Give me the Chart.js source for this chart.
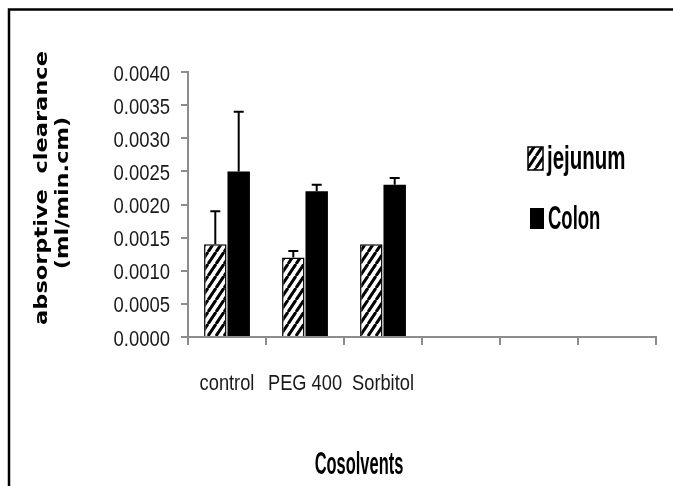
<!DOCTYPE html>
<html>
<head>
<meta charset="utf-8">
<script src="https://cdn.jsdelivr.net/npm/chart.js@4.4.1/dist/chart.umd.min.js"></script>
<style>
  body { margin: 0; background: #fff; }
  canvas { display: block; }
</style>
</head>
<body>
<canvas id="grafico" width="673" height="486"></canvas>
<script>
// datos
const categorias = ["control", "PEG 400", "Sorbitol", "", "", ""];
const jejunum = [0.0014, 0.0012, 0.0014];
const colon = [0.0025, 0.0022, 0.0023];
const errJejunum = [0.0005, 0.0001, 0];
const errColon = [0.0009, 0.0001, 0.0001];
const ticksY = ["0.0000", "0.0005", "0.0010", "0.0015", "0.0020", "0.0025", "0.0030", "0.0035", "0.0040"];

const GRIS = "#8c8c8c";
const FUENTE = "'Liberation Sans', Arial, sans-serif";

// relleno rayado para jejunum
function rayado() {
  const c = document.createElement("canvas");
  c.width = 8; c.height = 12;
  const g = c.getContext("2d");
  g.fillStyle = "#fff";
  g.fillRect(0, 0, 8, 12);
  g.strokeStyle = "#000";
  g.lineWidth = 3;
  g.beginPath();
  for (const dx of [-8, 0, 8]) { g.moveTo(dx, 12); g.lineTo(dx + 8, 0); }
  g.stroke();
  return g.createPattern(c, "repeat");
}
const patron = rayado();

// texto angosto (la figura original usa una fuente estrecha)
function textoEscalado(ctx, txt, x, y, sx, align) {
  ctx.save();
  ctx.translate(x, y);
  ctx.scale(sx, 1);
  ctx.textAlign = align || "left";
  ctx.fillText(txt, 0, 0);
  ctx.restore();
}

// marco, barras de error, etiquetas, leyenda y titulos
const extras = {
  id: "extras",
  afterDatasetsDraw(chart) {
    const ctx = chart.ctx;
    const y = chart.scales.y;
    const errores = [errJejunum, errColon];
    const valores = [jejunum, colon];
    ctx.save();
    ctx.strokeStyle = "#000";
    ctx.lineWidth = 2;
    errores.forEach((errs, i) => {
      chart.getDatasetMeta(i).data.forEach((bar, j) => {
        if (!errs[j]) return;
        const top = y.getPixelForValue(valores[i][j] + errs[j]);
        ctx.beginPath();
        ctx.moveTo(bar.x, bar.y);
        ctx.lineTo(bar.x, top);
        ctx.moveTo(bar.x - 5, top);
        ctx.lineTo(bar.x + 5, top);
        ctx.stroke();
      });
    });
    ctx.restore();
  },
  afterDraw(chart) {
    const ctx = chart.ctx;
    const sx = chart.scales.x, sy = chart.scales.y;
    ctx.save();
    // marco
    ctx.strokeStyle = "#000";
    ctx.lineWidth = 2.5;
    ctx.beginPath();
    ctx.moveTo(9, 486);
    ctx.lineTo(9, 9.5);
    ctx.lineTo(673, 9.5);
    ctx.stroke();

    // etiquetas de los ejes
    ctx.fillStyle = "#1a1a1a";
    ctx.font = "22px " + FUENTE;
    ctx.textBaseline = "alphabetic";
    ticksY.forEach(t => {
      textoEscalado(ctx, t, 170, sy.getPixelForValue(parseFloat(t)) + 8.5, 0.84, "right");
    });
    categorias.forEach((c, i) => {
      if (c) textoEscalado(ctx, c, sx.getPixelForValue(i), 390, 0.83, "center");
    });

    // leyenda
    ctx.fillStyle = patron;
    ctx.fillRect(528, 147, 15, 23);
    ctx.strokeStyle = "#000";
    ctx.lineWidth = 1.5;
    ctx.strokeRect(528, 147, 15, 23);
    ctx.fillStyle = "#000";
    ctx.fillRect(530, 208, 14, 21);
    ctx.font = "bold 33px " + FUENTE;
    textoEscalado(ctx, "jejunum", 547, 169, 0.62);
    textoEscalado(ctx, "Colon", 548, 229, 0.56);

    // titulo eje x
    ctx.font = "bold 31px " + FUENTE;
    textoEscalado(ctx, "Cosolvents", 359, 474, 0.53, "center");

    // titulo eje y
    ctx.font = "bold 22.5px 'DejaVu Sans', Verdana, sans-serif";
    ctx.textBaseline = "middle";
    ctx.textAlign = "center";
    [["absorptive  clearance", 42, 188], ["(ml/min.cm)", 63, 193]].forEach(([t, x, yy]) => {
      ctx.save();
      ctx.translate(x, yy);
      ctx.rotate(-Math.PI / 2);
      ctx.scale(1, 0.82);
      ctx.fillText(t, 0, 0);
      ctx.restore();
    });
    ctx.restore();
  }
};

new Chart(document.getElementById("grafico"), {
  type: "bar",
  data: {
    labels: categorias,
    datasets: [
      {
        label: "jejunum",
        data: jejunum,
        backgroundColor: patron,
        borderColor: "#000",
        borderWidth: 1.5,
        borderSkipped: "bottom",
        categoryPercentage: 0.6,
        barPercentage: 0.96
      },
      {
        label: "Colon",
        data: colon,
        backgroundColor: "#000",
        borderWidth: 0,
        categoryPercentage: 0.6,
        barPercentage: 0.96
      }
    ]
  },
  options: {
    responsive: false,
    animation: false,
    layout: { padding: { top: 72, right: 17, bottom: 0, left: 0 } },
    plugins: { legend: { display: false }, tooltip: { enabled: false } },
    scales: {
      x: {
        afterFit: s => { s.height = 149; },
        grid: { drawOnChartArea: false, tickLength: 8, color: GRIS, lineWidth: 2 },
        border: { color: GRIS, width: 2 },
        ticks: { display: false, autoSkip: false }
      },
      y: {
        min: 0,
        max: 0.004,
        afterFit: s => { s.width = 188; },
        afterBuildTicks: s => { s.ticks = ticksY.map(v => ({ value: parseFloat(v) })); },
        grid: { drawOnChartArea: false, tickLength: 7, color: GRIS, lineWidth: 2 },
        border: { color: GRIS, width: 2 },
        ticks: { display: false }
      }
    }
  },
  plugins: [extras]
});
</script>
</body>
</html>
